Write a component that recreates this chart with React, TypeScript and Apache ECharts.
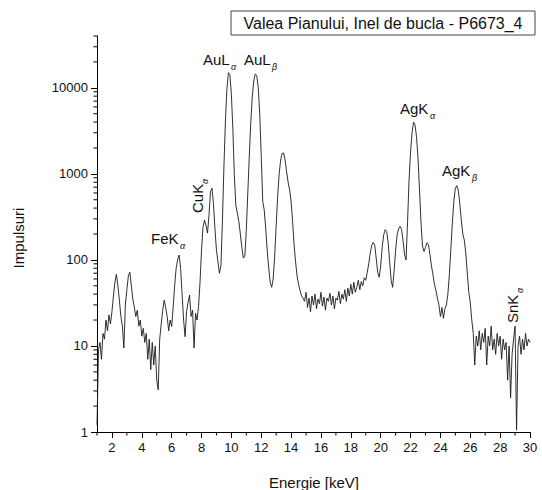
import React, { useEffect, useRef } from 'react';
import * as echarts from 'echarts';

// Energy grid of the spectrum (keV): first channel and step
const E_START = 1.0;
const E_STEP = 0.1;

// Counts, 1.0 – 7.9 keV
const countsLow = [
  1.2, 9, 11, 7, 14, 12, 20, 15, 23, 18,
  25, 38, 55, 68, 50, 34, 22, 17, 9.5, 30,
  45, 65, 72, 50, 35, 28, 22, 26, 17, 20,
  13, 16, 11, 14, 7, 12, 5.3, 11, 6, 10,
  4, 3.1, 12, 18, 26, 34, 28, 22, 15, 20,
  16.8, 28, 50, 80, 100, 114, 80, 40, 20, 12.8,
  25, 32, 39, 22, 26, 9.5, 24, 20, 28.6, 55,
];
// 8.0 – 14.9 keV (Cu K, Au L lines)
const countsL = [
  130, 240, 290, 250, 205, 330, 620, 680, 450, 230,
  130, 95, 70, 85, 280, 1200, 4100, 9600, 15000, 14200,
  8400, 3300, 950, 430, 350, 280, 200, 140, 105, 110,
  220, 600, 1600, 4000, 8000, 12000, 14500, 13800, 10000, 5000,
  1600, 480, 380, 230, 130, 80, 55, 48, 60, 110,
  250, 550, 1000, 1450, 1720, 1750, 1450, 1050, 800, 650,
  480, 280, 150, 95, 65, 52, 44, 38, 36, 33,
];
// 15.0 – 21.9 keV
const countsMid = [
  42, 28, 36, 25, 38, 30, 40, 27, 35, 31,
  42, 29, 37, 26, 36, 33, 41, 30, 38, 27,
  36, 34, 43, 31, 40, 35, 45, 33, 47, 38,
  52, 40, 55, 42, 48, 58, 45, 56, 50, 62,
  58, 72, 90, 120, 148, 160, 148, 105, 72, 63,
  85, 140, 195, 225, 215, 160, 95, 58, 48, 75,
  130, 195, 230, 245, 225, 165, 115, 100, 280, 850,
];
// 22.0 – 30.0 keV (Ag K lines, Sn K)
const countsK = [
  1800, 3000, 4000, 3700, 2700, 1500, 650, 270, 145, 125,
  140, 158, 150, 115, 85, 68, 52, 44, 36, 30,
  22, 28, 21, 27, 30, 40, 68, 135, 270, 480,
  680, 730, 640, 450, 290, 200, 170, 120, 70, 42,
  32, 20, 14, 6, 13, 10, 15, 9, 14, 11,
  16, 6, 13, 10, 17, 9, 12, 8, 14, 10,
  13, 7, 12, 9, 11, 4, 10, 2.5, 8, 12,
  17, 1.05, 10, 13, 8, 12, 9, 14, 10, 12,
  11,
];

const xMajorTicks = [2, 4, 6, 8, 10, 12, 14, 16, 18, 20, 22, 24, 26, 28, 30];
const xMinorTicks = [1, 3, 5, 7, 9, 11, 13, 15, 17, 19, 21, 23, 25, 27, 29];
const yMajorTicks = [1, 10, 100, 1000, 10000];
const yMinorTicks = [
  2, 3, 4, 5, 6, 7, 8, 9,
  20, 30, 40, 50, 60, 70, 80, 90,
  200, 300, 400, 500, 600, 700, 800, 900,
  2000, 3000, 4000, 5000, 6000, 7000, 8000, 9000,
  20000, 30000, 40000,
];
const X_MIN = 1;
const X_MAX = 30;
const Y_MIN = 1;
const Y_MAX = 40000;

const titleText = 'Valea Pianului, Inel de bucla - P6673_4';
const xName = 'Energie [keV]';
const yName = 'Impulsuri';

const peakNames = ['FeK', 'CuK', 'AuL', 'AuL', 'AgK', 'AgK', 'SnK'];
const peakSubs = ['α', 'α', 'α', 'β', 'α', 'β', 'α'];

// layout of the peak annotations (pixels)
const peakLayout = [
  { x: 151, y: 246, dx: 29, rot: false },
  { x: 205, y: 213, dx: 29, rot: true },
  { x: 203, y: 67, dx: 28, rot: false },
  { x: 244, y: 67, dx: 28, rot: false },
  { x: 400, y: 116, dx: 30, rot: false },
  { x: 442, y: 178, dx: 30, rot: false },
  { x: 520, y: 323, dx: 30, rot: true },
];

const FONT = '"Liberation Sans", Arial, Helvetica, sans-serif';
const MINOR_LEN = 3.5;

export default function App() {
  const ref = useRef<HTMLDivElement>(null);

  useEffect(() => {
    if (!ref.current) return;
    const chart = echarts.init(ref.current, undefined, { renderer: 'svg' });

    const counts = [...countsLow, ...countsL, ...countsMid, ...countsK];
    const data = counts.map((v, i) => [Number((E_START + i * E_STEP).toFixed(2)), v]);

    const labelEls = peakNames.map((name, i) => {
      const l = peakLayout[i];
      return {
        type: 'group',
        x: l.x,
        y: l.y,
        rotation: l.rot ? Math.PI / 2 : 0,
        silent: true,
        children: [
          {
            type: 'text',
            x: 0,
            y: 0,
            style: { text: name, fontSize: 15, fontFamily: FONT, fill: '#111', align: 'left', verticalAlign: 'bottom' },
          },
          {
            type: 'text',
            x: l.dx,
            y: 4,
            style: {
              text: peakSubs[i],
              fontSize: 9,
              fontStyle: 'italic',
              fontFamily: FONT,
              fill: '#111',
              align: 'left',
              verticalAlign: 'bottom',
            },
          },
        ],
      };
    });

    const tickStyle = { color: '#000', width: 1 };

    const option: any = {
      animation: false,
      backgroundColor: '#fff',
      grid: { left: 97, right: 12, top: 36, bottom: 58, containLabel: false },
      xAxis: {
        type: 'value',
        min: X_MIN,
        max: X_MAX,
        position: 'bottom',
        axisLine: { show: true, onZero: false, lineStyle: { color: '#000', width: 1 } },
        axisTick: { show: true, customValues: xMajorTicks, length: 6, lineStyle: tickStyle },
        axisLabel: { customValues: xMajorTicks, fontSize: 13, color: '#111', fontFamily: FONT, margin: 9 },
        splitLine: { show: false },
      },
      yAxis: {
        type: 'log',
        logBase: 10,
        min: Y_MIN,
        max: Y_MAX,
        position: 'left',
        axisLine: { show: true, onZero: false, lineStyle: { color: '#000', width: 1 } },
        axisTick: { show: true, customValues: yMajorTicks, length: 6, lineStyle: tickStyle },
        axisLabel: {
          customValues: yMajorTicks,
          fontSize: 13,
          color: '#111',
          fontFamily: FONT,
          margin: 9,
          formatter: (v: number) => String(Math.round(v)),
        },
        splitLine: { show: false },
      },
      series: [
        {
          type: 'line',
          data,
          symbol: 'none',
          showSymbol: false,
          lineStyle: { color: '#1a1a1a', width: 0.9 },
          silent: true,
          z: 3,
        },
        {
          // minor ticks of the log axis
          type: 'custom',
          clip: false,
          silent: true,
          data: yMinorTicks.map((v) => [X_MIN, v]),
          renderItem: (_p: any, api: any) => {
            const pt = api.coord([X_MIN, api.value(1)]);
            return {
              type: 'line',
              shape: { x1: pt[0] - MINOR_LEN, y1: pt[1], x2: pt[0], y2: pt[1] },
              style: { stroke: '#000', lineWidth: 1 },
            };
          },
          z: 2,
        },
        {
          // minor ticks of the energy axis
          type: 'custom',
          clip: false,
          silent: true,
          data: xMinorTicks.map((v) => [v, Y_MIN]),
          renderItem: (_p: any, api: any) => {
            const pt = api.coord([api.value(0), Y_MIN]);
            return {
              type: 'line',
              shape: { x1: pt[0], y1: pt[1], x2: pt[0], y2: pt[1] + MINOR_LEN },
              style: { stroke: '#000', lineWidth: 1 },
            };
          },
          z: 2,
        },
      ],
      graphic: [
        {
          type: 'rect',
          shape: { x: 231, y: 11, width: 304, height: 24 },
          style: { fill: '#fff', stroke: '#444', lineWidth: 1 },
          silent: true,
        },
        {
          type: 'text',
          x: 383,
          y: 23,
          style: { text: titleText, fontSize: 16, fontFamily: FONT, fill: '#111', align: 'center', verticalAlign: 'middle' },
          silent: true,
        },
        {
          type: 'text',
          x: 18,
          y: 238,
          rotation: Math.PI / 2,
          style: { text: yName, fontSize: 15, fontFamily: FONT, fill: '#111', align: 'center', verticalAlign: 'middle' },
          silent: true,
        },
        {
          type: 'text',
          x: 314,
          y: 482,
          style: { text: xName, fontSize: 15, fontFamily: FONT, fill: '#111', align: 'center', verticalAlign: 'middle' },
          silent: true,
        },
        ...labelEls,
      ],
    };

    chart.setOption(option);
    return () => chart.dispose();
  }, []);

  return (
    <div
      ref={ref}
      style={{ position: 'fixed', left: 0, top: 0, width: 542, height: 490, background: '#fff' }}
    />
  );
}
